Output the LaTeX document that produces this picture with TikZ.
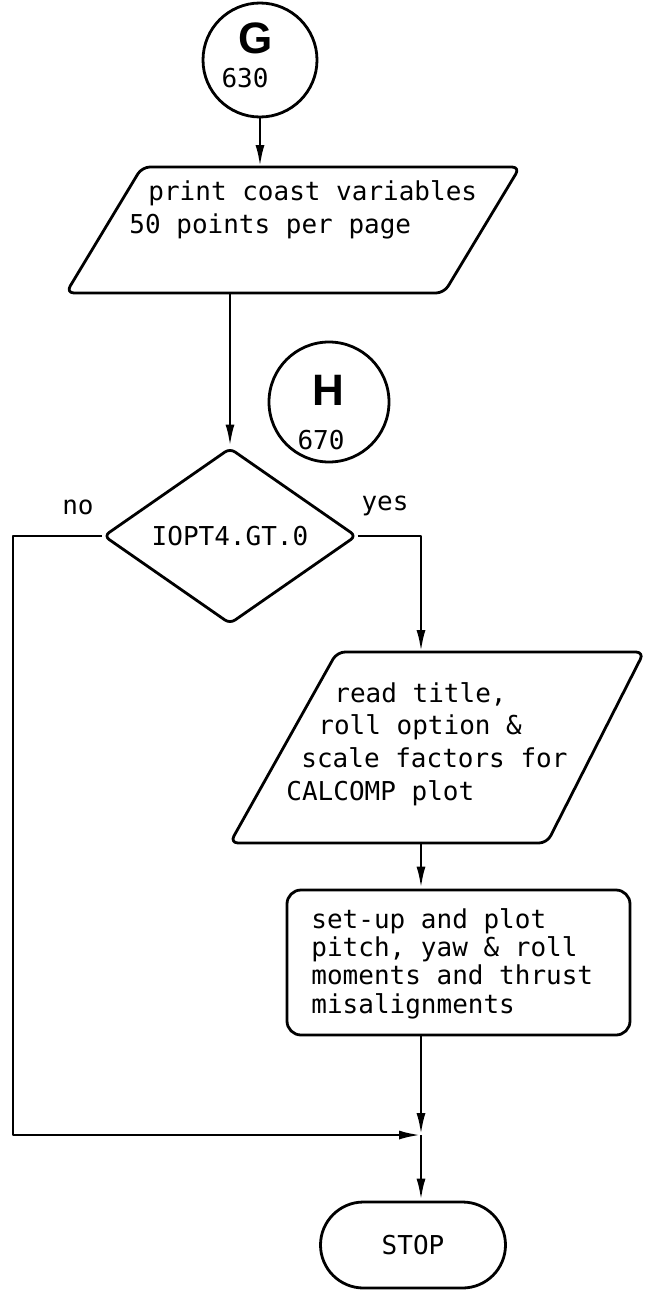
\documentclass[tikz,border=0pt]{standalone}
\usepackage{fontspec}
\newfontfamily\mono{DejaVu Sans Mono}
\newfontfamily\hv{Liberation Sans}
\usetikzlibrary{arrows.meta,shapes.geometric}
\begin{document}
\begin{tikzpicture}[x=1pt,y=-1pt,
  line width=2.8pt, line join=round,
  arr/.style={-{Latex[length=22pt,width=9pt]}},
  conn/.style={draw, circle, minimum size=114pt, inner sep=0pt},
  lbl/.style={inner sep=0pt, font=\mono\fontsize{26}{32}\selectfont},
  big/.style={inner sep=0pt, font=\hv\bfseries\fontsize{44}{44}\selectfont},
  txt/.style={inner sep=0pt, anchor=base west},
  shp/.style={rounded corners=8pt}
]
\useasboundingbox (0,0) rectangle (647,1290);

% connector G
\node[conn] (Gc) at (260,60) {};
\node[big] (Gl) at (256,38) {G};
\node[lbl] (Gn) at (245,78) {630};

% parallelogram 1
\draw[shp] (300,167) -- (520,167) -- (444,293) -- (66,293) -- (142,167) -- cycle;
\coordinate (P1top) at (260,167);
\coordinate (P1bot) at (230,293);
\node[txt] (P1t) at (128,200) {\mono\fontsize{26}{33}\selectfont\begin{tabular}[t]{@{}l@{}}\hspace*{19pt}print coast variables\\50 points per page\end{tabular}};

% connector H
\node[conn, minimum size=120pt] (Hc) at (329,402) {};
\node[big] (Hl) at (328,390) {H};
\node[lbl] (Hn) at (321,440) {670};

% decision
\node[draw, diamond, minimum width=253pt, minimum height=152pt, inner sep=0pt, rounded corners=6pt, lbl] (D) at (230,536) {IOPT4.GT.0};
\node[lbl] (no) at (78,507) {no};
\node[lbl] (yes) at (385,506) {yes};

% parallelogram 2
\draw[shp] (450,652) -- (644,652) -- (547,843) -- (230,843) -- (337,652) -- cycle;
\coordinate (P2top) at (421,652);
\coordinate (P2bot) at (421,843);
\node[txt] (P2t) at (285,702) {\mono\fontsize{26}{32.7}\selectfont\begin{tabular}[t]{@{}l@{}}\hspace*{48pt}read title,\\\hspace*{32pt}roll option \&\\\hspace*{15pt}scale factors for\\CALCOMP plot\end{tabular}};

% process box
\node[draw, rounded corners=14pt, minimum width=343pt, minimum height=145pt, inner sep=0pt] (B) at (458.5,962.5) {};
\node[txt] (Bt) at (310,928) {\mono\fontsize{26}{28.4}\selectfont\begin{tabular}[t]{@{}l@{}}set-up and plot\\pitch, yaw \& roll\\moments and thrust\\misalignments\end{tabular}};

% terminal
\node[draw, rounded corners=43pt, minimum width=185pt, minimum height=86pt, lbl] (S) at (413,1245) {STOP};

% junction
\coordinate (J) at (421,1135);
\coordinate (NC) at (13,1135);

% connectors
\draw[arr] (Gc.south) -- (P1top);
\draw[arr] (D.north |- P1bot) -- (D.north);
\draw[arr] (D.east) -| (P2top);
\draw[arr] (P2bot) -- (P2bot |- B.north);
\draw[arr] (J |- B.south) -- (J);
\draw[arr] (D.west) -| (NC) -- (J);
\draw[arr] (J) -- (J |- S.north);
\end{tikzpicture}
\end{document}
